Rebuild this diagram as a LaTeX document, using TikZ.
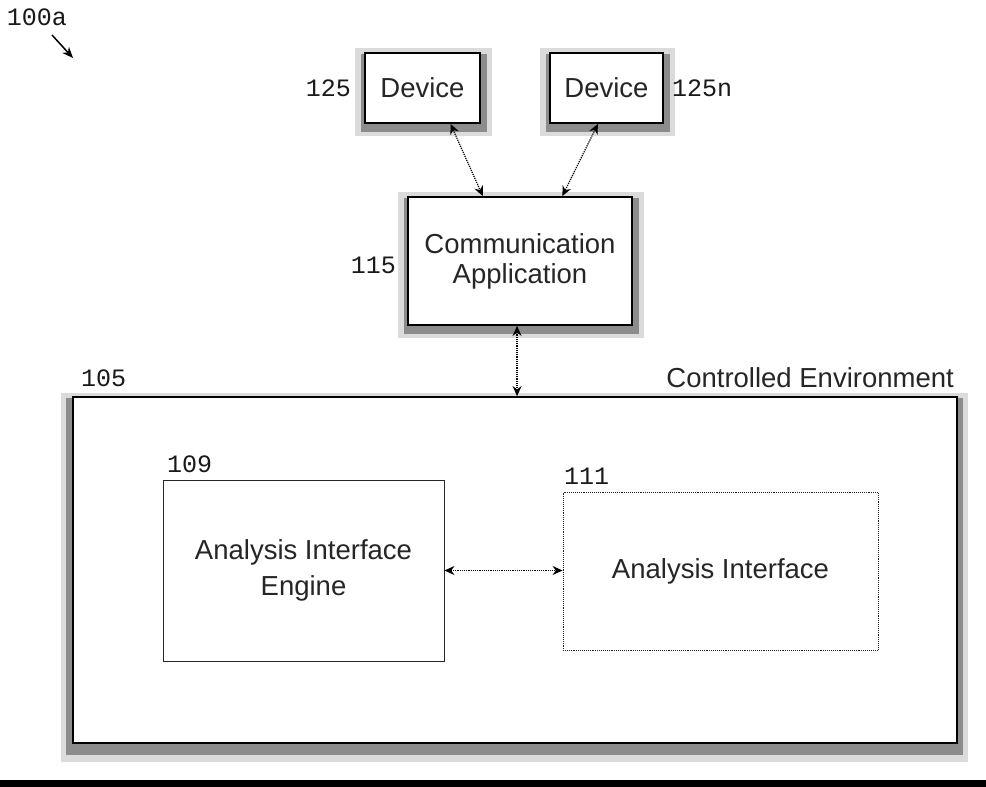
\documentclass[tikz,border=0pt]{standalone}
\usepackage{fontspec}
\setmainfont{Liberation Sans}
\newfontfamily\numfont{Liberation Mono}
\usetikzlibrary{calc,arrows.meta,backgrounds}
\tikzset{
  box/.style={draw=black, line width=1.8pt, fill=white, inner sep=0pt, align=center, text=black!85, font=\fontsize{27.5}{30}\selectfont},
  inbox/.style={draw=black!85, line width=0.9pt, inner sep=0pt, align=center, text=black!85, font=\fontsize{27.5}{36}\selectfont},
  num/.style={font=\numfont\fontsize{25}{27}\selectfont, inner sep=0pt, text=black!90},
  lbl/.style={font=\fontsize{27.5}{30}\selectfont, inner sep=0pt, text=black!85},
  link/.style={densely dotted, line width=1.2pt, {Stealth[length=10pt,width=9pt]}-{Stealth[length=10pt,width=9pt]}},
  shadowlight/.style={fill=black!14},
  shadowdark/.style={fill=black!45},
}
\begin{document}
\begin{tikzpicture}[x=1pt,y=-1pt]
\useasboundingbox (0,0) rectangle (986,787);
% boxes
\node[box, minimum width=115pt, minimum height=70pt] (d1) at (422.5,88) {Device};
\node[box, minimum width=113pt, minimum height=70pt] (d2) at (606.5,88) {Device};
\node[box, minimum width=224pt, minimum height=128pt] (comm) at (520,261) {Communication\\Application};
\node[box, minimum width=884pt, minimum height=346pt] (env) at (515,570) {};
\node[inbox, minimum width=281pt, minimum height=181pt] (e109) at (303.5,570.5) {Analysis Interface\\Engine};
\node[inbox, densely dotted, minimum width=315pt, minimum height=158pt] (i111) at (720.5,571) {Analysis Interface};
% shadows
\begin{scope}[on background layer]
\foreach \n in {d1,d2,comm} {
  \fill[shadowlight] ([shift={(-9,-4)}]\n.north west) rectangle ([shift={(11,12)}]\n.south east);
  \fill[shadowdark] ([shift={(-3,2)}]\n.north west) rectangle ([shift={(6,8)}]\n.south east);
}
\fill[shadowlight] ([shift={(-11,-3)}]env.north west) rectangle ([shift={(10,18)}]env.south east);
\fill[shadowdark] ([shift={(-6,2)}]env.north west) rectangle ([shift={(5,11)}]env.south east);
\end{scope}
% labels
\node[num] (l100) at (37,17) {100a};
\coordinate (p0) at (52,35);
\coordinate (p1) at (73,58);
\draw[line width=1.5pt, -{Stealth[length=11pt,width=9pt]}] (p0) -- (p1);
\node[num, anchor=east] (l125) at (351,88) {125};
\node[num, anchor=west] (l125n) at (672,88) {125n};
\node[num, anchor=east] (l115) at (396,265) {115};
\node[num, anchor=west] (l105) at (81,378) {105};
\node[lbl, anchor=east] (lenv) at (954,378) {Controlled Environment};
\node[num, anchor=west] (l109) at (167,464) {109};
\node[num, anchor=west] (l111) at (564,476) {111};
% connectors
\draw[link] ($(d1.south west)!0.74!(d1.south east)$) -- ($(comm.north west)!0.335!(comm.north east)$);
\draw[link] ($(d2.south west)!0.425!(d2.south east)$) -- ($(comm.north west)!0.6875!(comm.north east)$);
\draw[link] ($(comm.south west)!0.487!(comm.south east)$) coordinate (c1) -- (c1 |- env.north);
\draw[link] (e109.east) -- (e109.east -| i111.west);
% bottom bar
\fill[black] (0,780) rectangle (986,787);
\end{tikzpicture}
\end{document}
